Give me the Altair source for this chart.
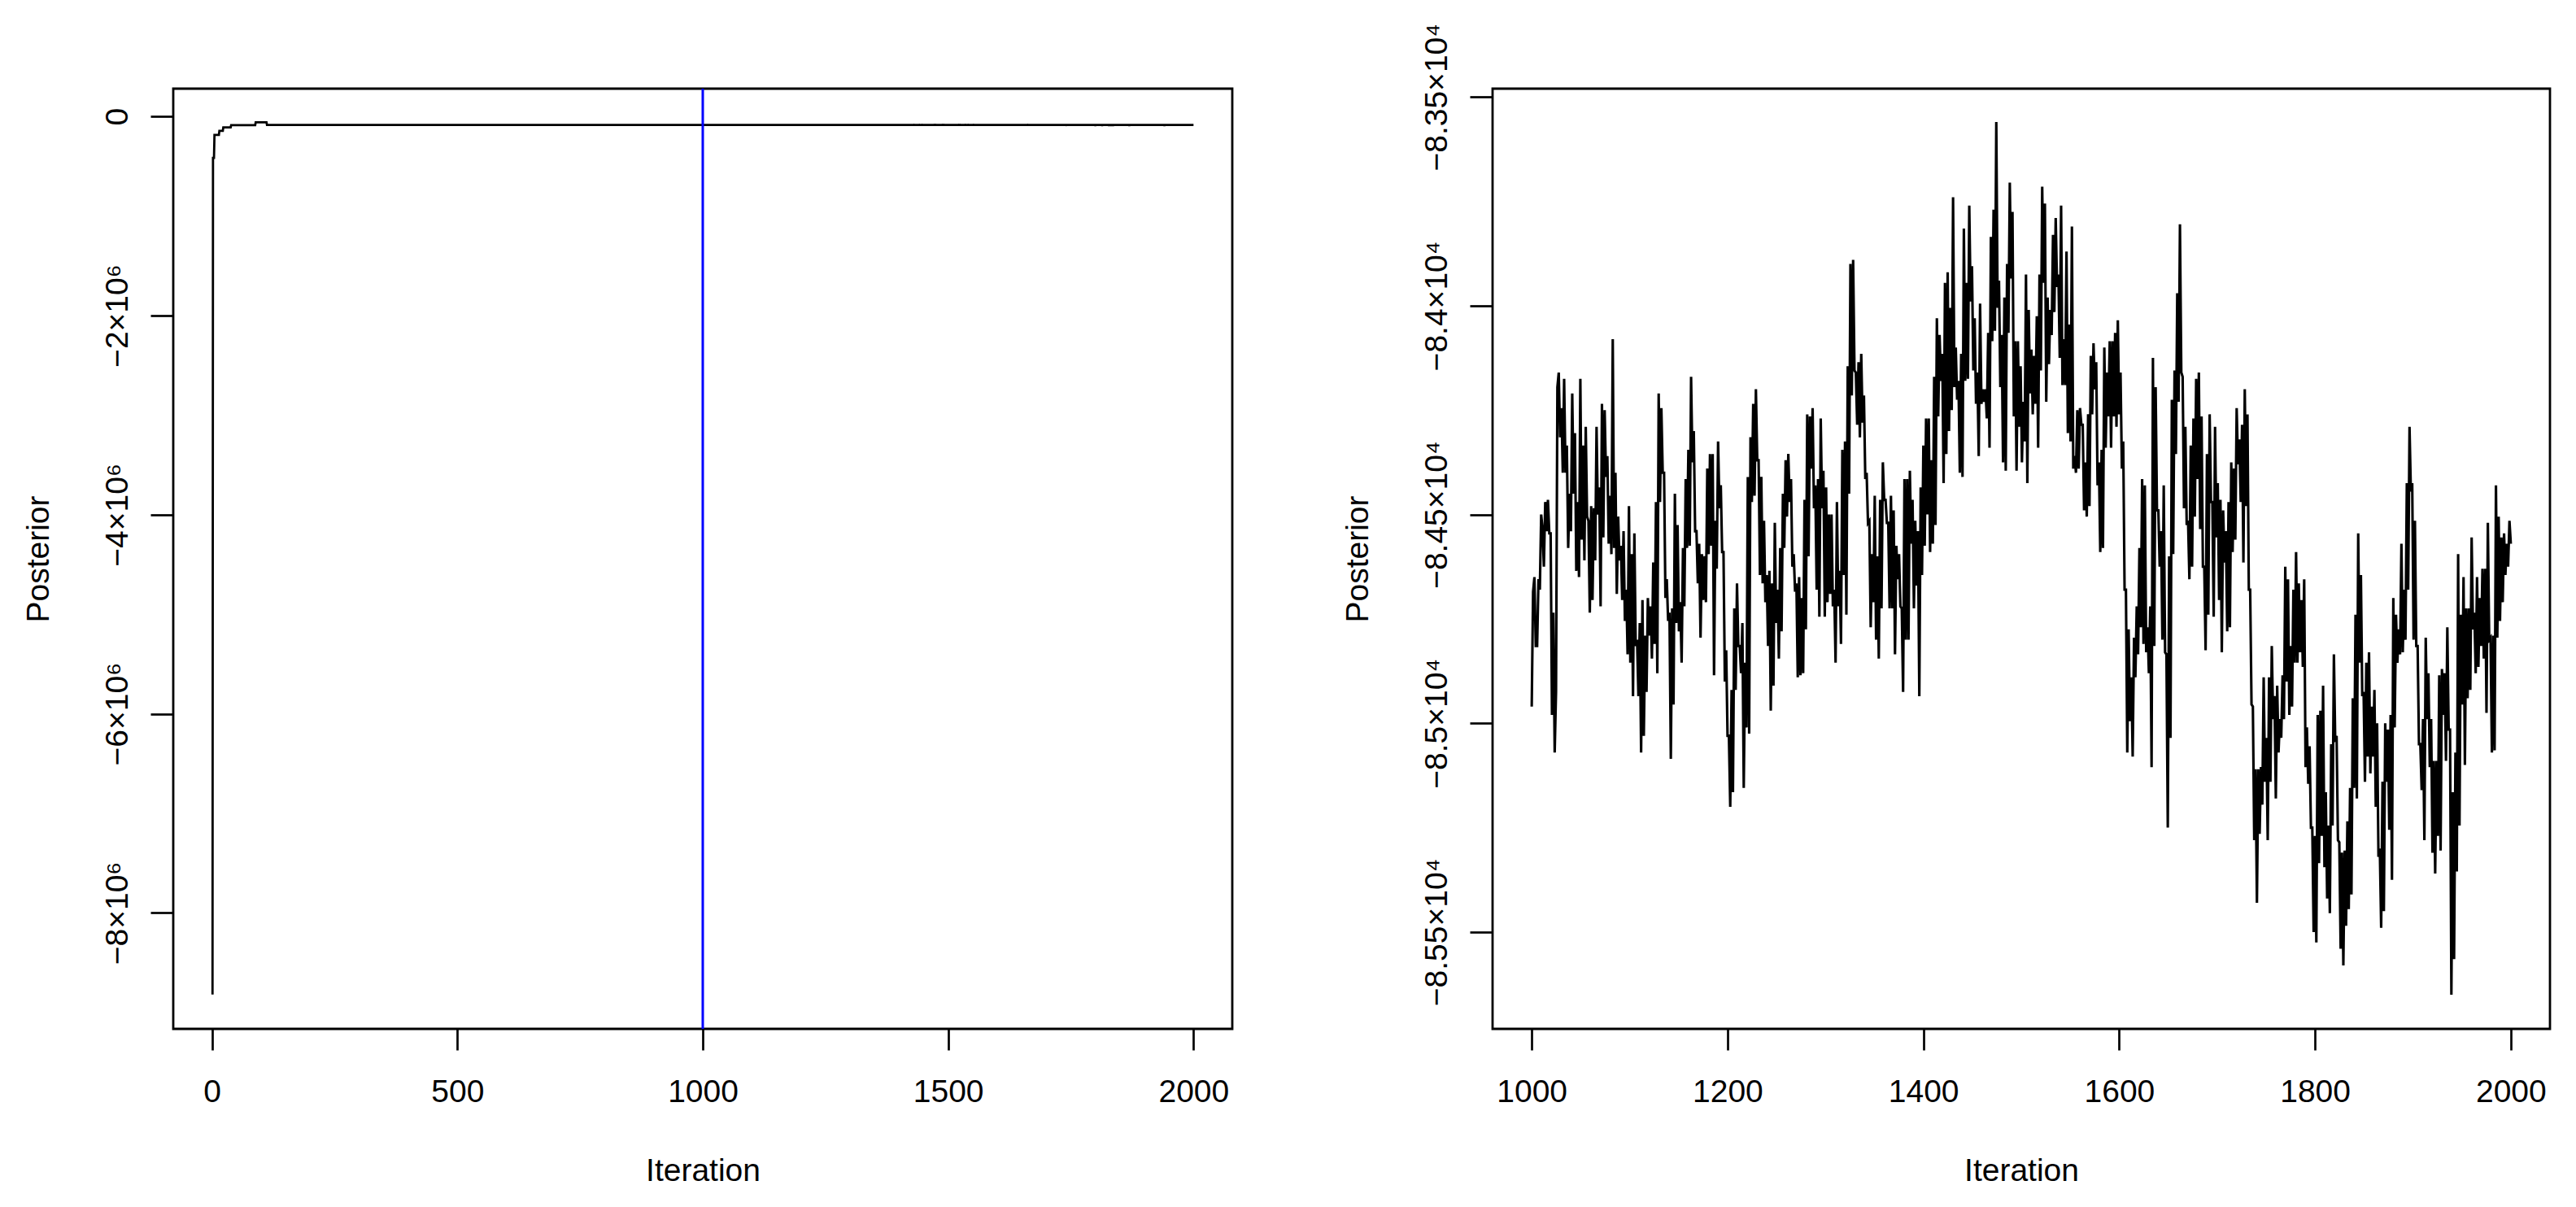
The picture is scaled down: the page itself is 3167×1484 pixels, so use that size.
import altair as alt
import numpy as np
import pandas as pd

# ---- data ----
# burn-in part of the chain (left panel), iteration / posterior
burn_iter = [1, 2, 4, 5, 14, 15, 22, 23, 38, 39, 88, 89, 111, 112, 200, 400, 600, 800, 999]
burn_post = [-8820000, -416000, -416000, -185000, -185000, -144000, -144000, -109000,
             -109000, -86000, -86000, -58000, -58000, -85000, -84800, -84600, -84900,
             -84500, -84700]

# post burn-in trace (iterations 1000 .. 2000), read left to right
trace_post = [
    # 1000 - 1183
    -84960, -84685, -84650, -84815, -84815, -84655, -84680, -84500, -84535, -84625,
    -84470, -84540, -84465, -84545, -84545, -84980, -84735, -85070, -84925, -84195,
    -84160, -84315, -84245, -84400, -84175, -84400, -84335, -84580, -84450, -84540,
    -84210, -84450, -84305, -84635, -84470, -84650, -84175, -84560, -84335, -84610,
    -84290, -84505, -84515, -84735, -84480, -84705, -84485, -84610, -84290, -84500,
    -84435, -84720, -84235, -84555, -84250, -84410, -84360, -84570, -84455, -84595,
    -84080, -84580, -84400, -84690, -84505, -84610, -84575, -84705, -84540, -84755,
    -84680, -84835, -84480, -84855, -84595, -84935, -84545, -84815, -84800, -84935,
    -84760, -85070, -84705, -85030, -84790, -84925, -84700, -84790, -84720, -84845,
    -84615, -84810, -84470, -84880, -84210, -84470, -84245, -84400, -84400, -84700,
    -84655, -84755, -84735, -85085, -84725, -84955, -84450, -84760, -84525, -84780,
    -84710, -84855, -84580, -84720, -84415, -84580, -84345, -84575, -84170, -84375,
    -84300, -84540, -84540, -84665, -84570, -84795, -84595, -84705, -84600, -84710,
    -84390, -84595, -84355, -84575,
    # 1183 - 1382
    -84355, -84885, -84515, -84630, -84325, -84485, -84430, -84590, -84590, -84900,
    -84825, -85030, -85030, -85200, -84920, -85165, -84725, -84920, -84665, -84815,
    -84815, -84880, -84760, -85155, -84855, -85010, -84410, -85025, -84315, -84470,
    -84235, -84455, -84200, -84370, -84370, -84645, -84410, -84665, -84515, -84710,
    -84645, -84815, -84635, -84970, -84665, -84910, -84520, -84760, -84680, -84845,
    -84580, -84780, -84450, -84580, -84370, -84505, -84355, -84470, -84415, -84625,
    -84595, -84685, -84665, -84890, -84650, -84885, -84700, -84880, -84465, -84775,
    -84260, -84600, -84265, -84390, -84245, -84485, -84430, -84680, -84415, -84745,
    -84270, -84485, -84395, -84745, -84435, -84710, -84500, -84690, -84500, -84720,
    -84680, -84855, -84470, -84720, -84635, -84810, -84345, -84645, -84325, -84740,
    -84145, -84450, -83900, -84215, -83890, -84155, -84160, -84285, -84135, -84315,
    -84115, -84280, -84215, -84415, -84400, -84520, -84515, -84770, -84595, -84710,
    -84455, -84800, -84600, -84845, -84465, -84725, -84375, -84465, -84465, -84520,
    -84520, -84725, -84455, -84725, -84490, -84835, -84575, -84655, -84595, -84720,
    -84725, -84925, -84415, -84800,
    # 1382 - 1581
    -84415, -84800, -84395, -84570, -84465, -84725, -84515, -84670, -84540, -84935,
    -84435, -84645, -84335, -84575, -84270, -84500, -84270, -84590, -84370, -84570,
    -84170, -84525, -84030, -84265, -84070, -84180, -84115, -84425, -83945, -84355,
    -83920, -84300, -84005, -84250, -83740, -84195, -84100, -84225, -84180, -84400,
    -84115, -84410, -83815, -84180, -83945, -84175, -83760, -83990, -83905, -84155,
    -84030, -84235, -84160, -84360, -83995, -84235, -84200, -84230, -84200, -84270,
    -84065, -84340, -83835, -84085, -83770, -84060, -83560, -84005, -83940, -84195,
    -84070, -84375, -83980, -84395, -83900, -84065, -83705, -83935, -83775, -84265,
    -84085, -84395, -84085, -84290, -84145, -84375, -84230, -84325, -83925, -84425,
    -84010, -84210, -84105, -84260, -84120, -84235, -84025, -84340, -83925, -84155,
    -83715, -83945, -83755, -84230, -83980, -84140, -84010, -84070, -83830, -84015,
    -83790, -83955, -83925, -84125, -83760, -84190, -84080, -84190, -83870, -84305,
    -84045, -84325, -83810, -84390, -84360, -84400, -84250, -84390, -84245, -84285,
    -84285, -84490, -84375, -84505, -84260, -84480, -84120, -84260, -84090, -84200,
    -84135, -84430, -84375, -84590,
    # 1581 - 1779
    -84345, -84580, -84100, -84340, -84160, -84265, -84085, -84340, -84085, -84265,
    -84065, -84290, -84035, -84260, -84160, -84390, -84325, -84680, -84680, -85070,
    -84775, -84995, -84890, -85080, -84795, -84890, -84720, -84835, -84580, -84770,
    -84415, -84810, -84430, -84830, -84770, -84880, -84720, -85105, -84125, -84815,
    -84195, -84490, -84490, -84625, -84540, -84800, -84430, -84830, -84835, -85250,
    -84600, -85035, -84225, -84595, -84155, -84355, -83970, -84230, -83805, -84160,
    -84170, -84485, -84290, -84525, -84515, -84655, -84335, -84625, -84270, -84505,
    -84175, -84415, -84160, -84535, -84265, -84625, -84625, -84825, -84355, -84740,
    -84260, -84470, -84470, -84745, -84290, -84555, -84425, -84705, -84465, -84830,
    -84490, -84615, -84540, -84780, -84470, -84770, -84375, -84590, -84390, -84560,
    -84245, -84380, -84320, -84470, -84285, -84615, -84200, -84480, -84260, -84680,
    -84680, -84955, -84960, -85280, -85110, -85430, -85110, -85265, -85105, -85195,
    -84890, -85140, -85035, -85280, -84890, -85140, -84815, -84990, -84935, -85180,
    -84910, -85070, -84990, -85035, -84885, -84990, -84625, -84900, -84655, -84980,
    -84815, -84960, -84680, -84855,
    # 1779 - 2000
    -84590, -84855, -84665, -84830, -84705, -84865, -84655, -85105, -85010, -85145,
    -85055, -85250, -85250, -85500, -85270, -85525, -84980, -85335, -84970, -85270,
    -84910, -85345, -85165, -85420, -85245, -85455, -85050, -85245, -84835, -85045,
    -85030, -85280, -85285, -85540, -85310, -85580, -85305, -85485, -85235, -85445,
    -85155, -85410, -84940, -85155, -84740, -85180, -84545, -84855, -84645, -84935,
    -84925, -85140, -84855, -85080, -84830, -85120, -84960, -85080, -84920, -85200,
    -85000, -85320, -85300, -85490, -85140, -85450, -85000, -85140, -85015, -85255,
    -84980, -85375, -84700, -85010, -84740, -84855, -84775, -84835, -84570, -84830,
    -84680, -84800, -84425, -84680, -84290, -84445, -84425, -84800, -84515, -84815,
    -84815, -85050, -85050, -85160, -84990, -85280, -84795, -84990, -84880, -85105,
    -84990, -85310, -85090, -85360, -85090, -85270, -84885, -85305, -84870, -84980,
    -84880, -85090, -84770, -85015, -85015, -85650, -85165, -85565, -85070, -85355,
    -84595, -85245, -84740, -84955, -84650, -85100, -84725, -84940, -84725, -84920,
    -84555, -84775, -84735, -84880, -84650, -84865, -84700, -84815, -84630, -84845,
    -84630, -84975, -84520, -84800, -84795, -85070, -84790, -85065, -84430, -84795,
    -84505, -84755, -84555, -84710, -84545, -84645, -84570, -84625, -84515, -84570,
]
trace_first, trace_last = 1000, 2000

vline_iter = [1000]

left_ticks_x = [0, 500, 1000, 1500, 2000]
left_ticks_y = [0, -2000000, -4000000, -6000000, -8000000]
right_ticks_x = [1000, 1200, 1400, 1600, 1800, 2000]
right_ticks_y = [-83500, -84000, -84500, -85000, -85500]

# ---- frames ----
trace_iter = np.linspace(trace_first, trace_last, len(trace_post))
left_df = pd.DataFrame({"Iteration": burn_iter + list(trace_iter),
                        "Posterior": burn_post + trace_post})
right_df = pd.DataFrame({"Iteration": trace_iter, "Posterior": trace_post})
vline_df = pd.DataFrame({"Iteration": vline_iter})

FONT = "Liberation Sans"
FS = 39
W_L, W_R, H = 1302, 1300, 1156


def x_axis(values, width):
    return alt.Axis(values=values, title="Iteration", format="d",
                    tickSize=26, tickWidth=2.7, tickColor="black",
                    labelPadding=63, labelBaseline="alphabetic", labelAlign="center",
                    labelFontSize=FS, labelFont=FONT, labelColor="black", labelLimit=0,
                    labelFlush=False, labelOverlap=False, domain=False, grid=False,
                    titleFontSize=FS, titleFont=FONT, titleFontWeight="normal",
                    titleColor="black", titleX=width / 2, titleY=186,
                    titleBaseline="alphabetic", titleAlign="center")


def y_axis(values, expr):
    return alt.Axis(values=values, title="Posterior", labelExpr=expr,
                    tickSize=28, tickWidth=2.7, tickColor="black",
                    labelAngle=270, labelAlign="center", labelBaseline="alphabetic",
                    labelPadding=29, labelFontSize=FS, labelFont=FONT, labelLimit=0,
                    labelColor="black", labelOverlap=False, labelFlush=False,
                    domain=False, grid=False,
                    titleFontSize=FS, titleFont=FONT, titleFontWeight="normal",
                    titleColor="black", titleAngle=270, titleX=-154, titleY=H / 2,
                    titleBaseline="alphabetic", titleAlign="center")


left_expr = ("datum.value == 0 ? '0' : '\u2212' + format(-datum.value / 1000000, 'd') + '\u00d710\u2076'")
right_expr = ("'\u2212' + format(-datum.value / 10000, '.3~f') + '\u00d710\u2074'")

left_line = alt.Chart(left_df).mark_line(color="black", strokeWidth=2.8, clip=True).encode(
    x=alt.X("Iteration:Q", scale=alt.Scale(domain=[-79, 2079], nice=False, zero=False),
            axis=x_axis(left_ticks_x, W_L)),
    y=alt.Y("Posterior:Q", scale=alt.Scale(domain=[-9165000, 280000], nice=False, zero=False),
            axis=y_axis(left_ticks_y, left_expr)),
    order=alt.Order("Iteration:Q"),
)
vline = alt.Chart(vline_df).mark_rule(color="#0000FF", strokeWidth=3).encode(
    x=alt.X("Iteration:Q"))
left = alt.layer(left_line, vline).properties(width=W_L, height=H)

right = alt.Chart(right_df).mark_line(color="black", strokeWidth=3.1, clip=True).encode(
    x=alt.X("Iteration:Q", scale=alt.Scale(domain=[960, 2040], nice=False, zero=False),
            axis=x_axis(right_ticks_x, W_R)),
    y=alt.Y("Posterior:Q", scale=alt.Scale(domain=[-85732, -83480], nice=False, zero=False),
            axis=y_axis(right_ticks_y, right_expr)),
    order=alt.Order("Iteration:Q"),
).properties(width=W_R, height=H)

chart = alt.hconcat(left, right, spacing=131,
                    padding={"left": 18, "top": 19, "right": 5, "bottom": 5},
                    background="white").configure(font=FONT).configure_view(
    stroke="black", strokeWidth=2.8)

chart.save("out.html", embed_options={"renderer": "svg", "actions": False})
